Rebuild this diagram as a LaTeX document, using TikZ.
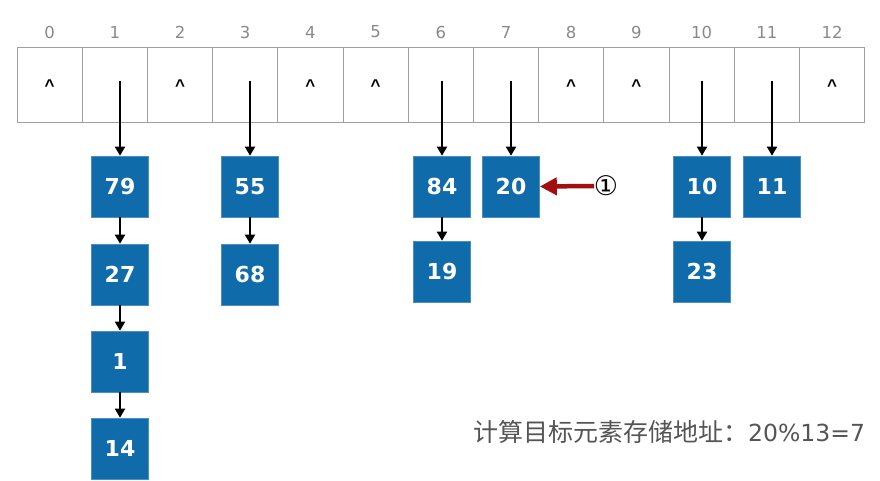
\documentclass[tikz,border=0pt]{standalone}
\usepackage{fontspec}
\setmainfont{DejaVu Sans}
\newfontfamily\cjk{Noto Sans CJK SC}
\newfontfamily\lib{Liberation Sans}
\usetikzlibrary{arrows.meta}
\definecolor{boxblue}{HTML}{0F6BAA}
\definecolor{gridgray}{HTML}{A0A0A0}
\definecolor{idxgray}{HTML}{8A8A8A}
\definecolor{txtgray}{HTML}{555555}
\definecolor{darkred}{HTML}{A30E0E}
\tikzset{
  cell/.style={draw=gridgray, line width=0.8pt, minimum width=65.2pt, minimum height=75pt, inner sep=0pt},
  idx/.style={text=idxgray, font=\fontsize{16.5}{16.5}\selectfont, inner sep=0pt},
  caret/.style={anchor=base, inner sep=0pt, font=\lib\bfseries\fontsize{17}{17}\selectfont},
  nbox/.style={fill=boxblue, draw=boxblue!75!white, line width=0.6pt, minimum width=57pt, minimum height=61pt, inner sep=0pt, text=white, font=\bfseries\fontsize{22}{22}\selectfont},
  arr/.style={line width=1.8pt, -{Triangle[length=9pt,width=10pt]}},
  redarr/.style={darkred, line width=4.5pt, -{Triangle[length=17pt,width=17pt]}}
}
\begin{document}
\begin{tikzpicture}[x=1pt,y=-1pt]
\useasboundingbox (0,0) rectangle (880,481);
\foreach \i in {0,...,12} {
  \node[cell] (c\i) at ({17+65.2*\i+32.6},84.5) {};
  \node[idx] (i\i) at ({17+65.2*\i+32.6},32) {\i};
}
\foreach \i in {0,2,4,5,8,9,12} {
  \node[caret] (k\i) at ({17+65.2*\i+32.6},92) {\^{}};
}
% boxes
\node[nbox] (b79) at (120,186.5) {79};
\node[nbox] (b27) at (120,274.5) {27};
\node[nbox] (b1)  at (120,361.5) {1};
\node[nbox] (b14) at (120,448.5) {14};
\node[nbox] (b55) at (250,186.5) {55};
\node[nbox] (b68) at (250,274.5) {68};
\node[nbox] (b84) at (442,186.5) {84};
\node[nbox] (b19) at (442,271.5) {19};
\node[nbox] (b20) at (511,186.5) {20};
\node[nbox] (b10) at (702,186.5) {10};
\node[nbox] (b23) at (702,271.5) {23};
\node[nbox] (b11) at (772,186.5) {11};
% start coordinates in cells
\coordinate (s1) at (120,81);
\coordinate (s3) at (250,81);
\coordinate (s6) at (442,81);
\coordinate (s7) at (511,81);
\coordinate (s10) at (702,81);
\coordinate (s11) at (772,81);
\draw[arr] (s1) -- (b79.north);
\draw[arr] (s3) -- (b55.north);
\draw[arr] (s6) -- (b84.north);
\draw[arr] (s7) -- (b20.north);
\draw[arr] (s10) -- (b10.north);
\draw[arr] (s11) -- (b11.north);
\draw[arr] (b79) -- (b27);
\draw[arr] (b27) -- (b1);
\draw[arr] (b1) -- (b14);
\draw[arr] (b55) -- (b68);
\draw[arr] (b84) -- (b19);
\draw[arr] (b10) -- (b23);
% red arrow
\node[inner sep=0pt, font=\fontsize{27}{27}\selectfont] (one) at (606,186) {①};
\coordinate (rs) at (594,186);
\draw[redarr] (rs) -- (b20.east);
% caption
\node[anchor=west, inner sep=0pt, text=txtgray, font=\fontsize{25}{25}\selectfont] (cap) at (473,432) {{\cjk 计算目标元素存储地址：}{\fontsize{23.5}{25}\selectfont 20\%13=7}};
\end{tikzpicture}
\end{document}
